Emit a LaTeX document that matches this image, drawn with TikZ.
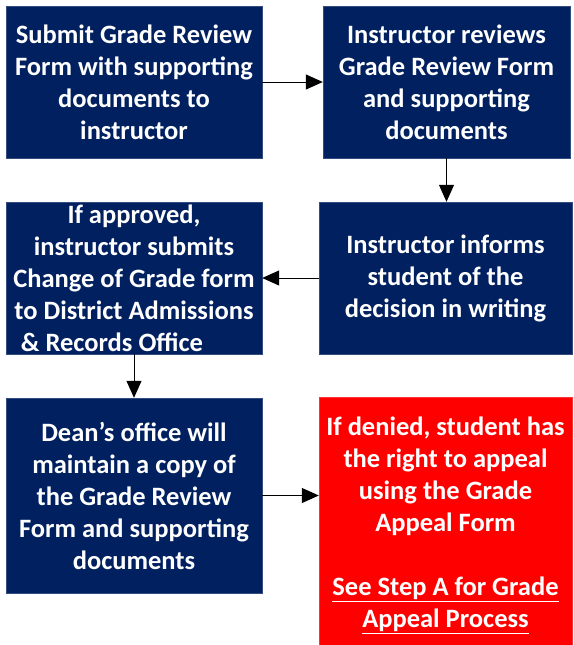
\documentclass[tikz,border=0pt]{standalone}
\usepackage{fontspec}
\setmainfont{Carlito}
\usetikzlibrary{arrows.meta}
\definecolor{navy}{HTML}{002060}
\definecolor{alarm}{HTML}{FF0000}
\tikzset{
  box/.style={rectangle, fill=navy, draw=navy!80!white, line width=0.4pt, text=white, align=center,
    font=\fontsize{26.5}{32}\selectfont\bfseries, inner sep=0pt},
  redbox/.style={box, fill=alarm, draw=alarm!80!white},
  flow/.style={line width=1pt, -{Triangle[length=17pt,width=15pt]}}
}
\begin{document}
\begin{tikzpicture}[x=1pt,y=-1pt]
\useasboundingbox (0,0) rectangle (573,645);
\node[box, minimum width=256pt, minimum height=152pt] (b1) at (134,82)
  {Submit Grade Review\\Form with supporting\\documents to\\instructor};
\node[box, minimum width=247pt, minimum height=152pt] (b2) at (446.5,82)
  {Instructor reviews\\Grade Review Form\\and supporting\\documents};
\node[box, minimum width=253pt, minimum height=152pt] (b3) at (445.5,278)
  {Instructor informs\\student of the\\decision in writing};
\node[box, minimum width=256pt, minimum height=152pt] (b4) at (134,278)
  {If approved,\\instructor submits\\Change of Grade form\\to District Admissions\\\& Records Office\hspace*{44pt}};
\node[box, minimum width=256pt, minimum height=195pt] (b5) at (134,495.5)
  {Dean’s office will\\maintain a copy of\\the Grade Review\\Form and supporting\\documents};
\node[redbox, minimum width=253pt, minimum height=249pt] (b6) at (445.5,522)
  {\rule{0pt}{26pt}If denied, student has\\the right to appeal\\using the Grade\\Appeal Form\\[32pt]\underline{See Step A for Grade}\\\underline{Appeal Process}};
\draw[flow] (b1.east) -- (b2.west);
\draw[flow] (b2.south) -- (b3.north -| b2.south);
\draw[flow] (b3.west) -- (b4.east);
\draw[flow] (b4.south) -- (b5.north);
\draw[flow] (b5.east) -- (b6.west |- b5.east);
\end{tikzpicture}
\end{document}
